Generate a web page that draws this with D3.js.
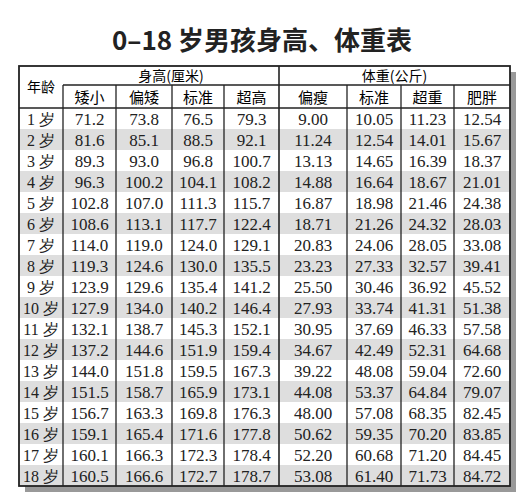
<!DOCTYPE html>
<html><head><meta charset="utf-8">
<script src="https://cdn.jsdelivr.net/npm/d3@7"></script>
<style>body{margin:0;background:#fff}</style>
</head><body>
<script>
const ages = ['1 岁','2 岁','3 岁','4 岁','5 岁','6 岁','7 岁','8 岁','9 岁','10 岁','11 岁','12 岁','13 岁','14 岁','15 岁','16 岁','17 岁','18 岁'];
const heightCols = ['矮小','偏矮','标准','超高'];
const weightCols = ['偏瘦','标准','超重','肥胖'];
const short_ = ['71.2','81.6','89.3','96.3','102.8','108.6','114.0','119.3','123.9','127.9','132.1','137.2','144.0','151.5','156.7','159.1','160.1','160.5'];
const lowH = ['73.8','85.1','93.0','100.2','107.0','113.1','119.0','124.6','129.6','134.0','138.7','144.6','151.8','158.7','163.3','165.4','166.3','166.6'];
const stdH = ['76.5','88.5','96.8','104.1','111.3','117.7','124.0','130.0','135.4','140.2','145.3','151.9','159.5','165.9','169.8','171.6','172.3','172.7'];
const tallH = ['79.3','92.1','100.7','108.2','115.7','122.4','129.1','135.5','141.2','146.4','152.1','159.4','167.3','173.1','176.3','177.8','178.4','178.7'];
const thinW = ['9.00','11.24','13.13','14.88','16.87','18.71','20.83','23.23','25.50','27.93','30.95','34.67','39.22','44.08','48.00','50.62','52.20','53.08'];
const stdW = ['10.05','12.54','14.65','16.64','18.98','21.26','24.06','27.33','30.46','33.74','37.69','42.49','48.08','53.37','57.08','59.35','60.68','61.40'];
const overW = ['11.23','14.01','16.39','18.67','21.46','24.32','28.05','32.57','36.92','41.31','46.33','52.31','59.04','64.84','68.35','70.20','71.20','71.73'];
const fatW = ['12.54','15.67','18.37','21.01','24.38','28.03','33.08','39.41','45.52','51.38','57.58','64.68','72.60','79.07','82.45','83.85','84.45','84.72'];
const series = [short_, lowH, stdH, tallH, thinW, stdW, overW, fatW];

const colX = [19,63,116,172,224,279,347,401,454,510];
const top0 = 66, mid = 85, body0 = 108, bottom = 486;
const y = d3.scaleBand().domain(d3.range(ages.length)).range([body0, bottom]);

const svg = d3.select('body').append('svg').attr('width',524).attr('height',500);
const serif = '"Liberation Serif","DejaVu Serif",serif';
const cjk = '"Noto Sans CJK SC",sans-serif';

svg.append('text').attr('x',262).attr('y',50).attr('text-anchor','middle')
  .attr('font-family',cjk).attr('font-weight','bold').attr('font-size',26).attr('fill','#222')
  .text('0–18 岁男孩身高、体重表');

// shadow
svg.append('rect').attr('x',colX[0]+6).attr('y',top0+6).attr('width',colX[9]-colX[0]).attr('height',bottom-top0).attr('fill','#999');
svg.append('rect').attr('x',colX[0]).attr('y',top0).attr('width',colX[9]-colX[0]).attr('height',bottom-top0).attr('fill','#fff');

svg.selectAll('rect.band').data(ages).enter().append('rect')
  .attr('x',colX[0]).attr('y',(d,i)=>y(i)).attr('width',colX[9]-colX[0]).attr('height',y.bandwidth())
  .attr('fill',(d,i)=>i%2? '#dedede':'#fff');

const g = svg.append('g');
// header texts
g.append('text').attr('x',(colX[0]+colX[1])/2).attr('y',(top0+body0)/2+5).attr('text-anchor','middle')
  .attr('font-family',cjk).attr('font-size',14).text('年龄');
g.append('text').attr('x',(colX[1]+colX[5])/2).attr('y',(top0+mid)/2+5).attr('text-anchor','middle')
  .attr('font-family',cjk).attr('font-size',14).text('身高(厘米)');
g.append('text').attr('x',(colX[5]+colX[9])/2).attr('y',(top0+mid)/2+5).attr('text-anchor','middle')
  .attr('font-family',cjk).attr('font-size',14).text('体重(公斤)');
heightCols.concat(weightCols).forEach((c,i)=>{
  g.append('text').attr('x',(colX[i+1]+colX[i+2])/2).attr('y',(mid+body0)/2+6).attr('text-anchor','middle')
    .attr('font-family',cjk).attr('font-size',15).text(c);
});
// body
g.selectAll('text.age').data(ages).enter().append('text')
  .attr('x',(colX[0]+colX[1])/2).attr('y',(d,i)=>y(i)+y.bandwidth()/2+6).attr('text-anchor','middle')
  .attr('font-family',serif).attr('font-size',16).attr('fill','#222').text(d=>d);
series.forEach((s,j)=>{
  g.selectAll('text.c'+j).data(s).enter().append('text')
    .attr('x',(colX[j+1]+colX[j+2])/2).attr('y',(d,i)=>y(i)+y.bandwidth()/2+6).attr('text-anchor','middle')
    .attr('font-family',serif).attr('font-size',17).attr('fill','#222').text(d=>d);
});
// lines
const ln = (x1,y1,x2,y2,w)=>svg.append('line').attr('x1',x1).attr('y1',y1).attr('x2',x2).attr('y2',y2).attr('stroke','#222').attr('stroke-width',w||1.3);
ln(colX[1],mid,colX[9],mid);
ln(colX[0],body0,colX[9],body0,1.6);
colX.slice(1,9).forEach((x,i)=>{ ln(x, (i===4)? top0 : mid, x, bottom, i===4?1.6:1.3); });
svg.append('rect').attr('x',colX[0]).attr('y',top0).attr('width',colX[9]-colX[0]).attr('height',bottom-top0)
  .attr('fill','none').attr('stroke','#222').attr('stroke-width',1.8);
</script>
</body></html>
